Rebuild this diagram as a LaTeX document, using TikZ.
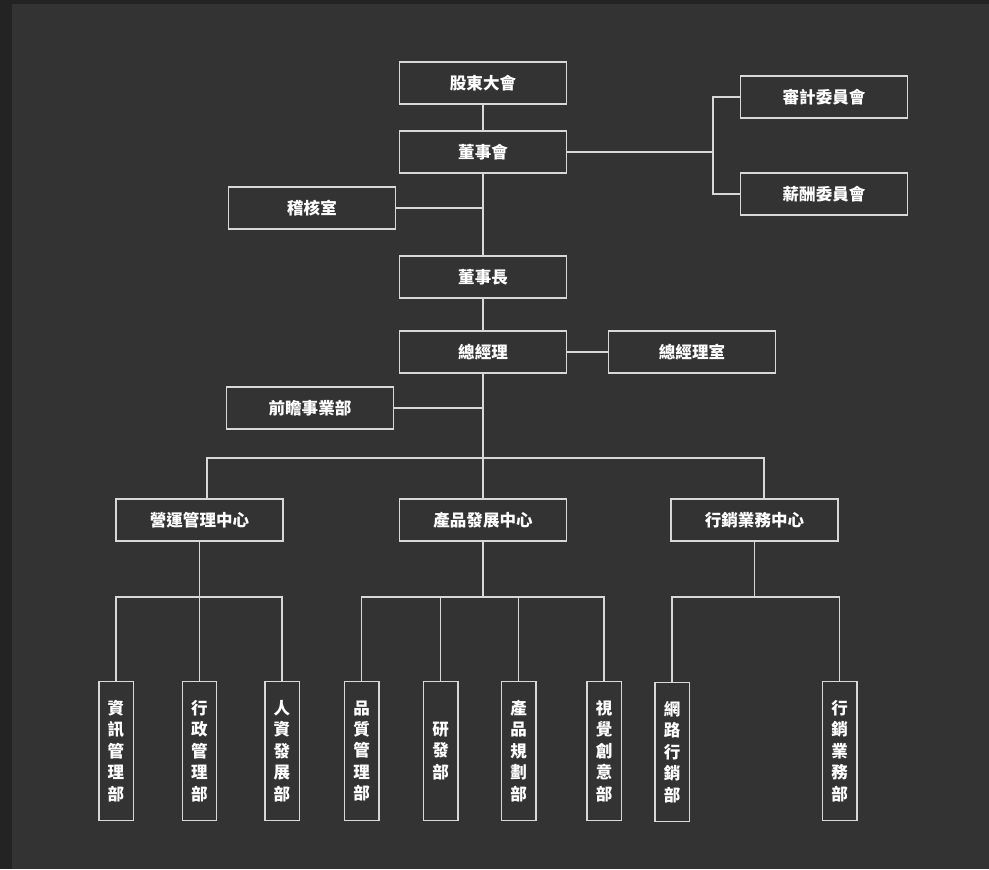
\documentclass[tikz,border=0pt]{standalone}
\usepackage{fontspec}
\newfontfamily\tcfont{Noto Sans CJK TC}
\usetikzlibrary{positioning}

\definecolor{pagebg}{HTML}{333333}
\definecolor{edgebg}{HTML}{232323}
\definecolor{inkline}{HTML}{D8D8D8}

\tikzset{
  unit/.style={draw=inkline,line width=0.85pt,minimum width=3.34cm,minimum height=0.84cm,inner sep=0pt,
    text=white,font=\tcfont\bfseries\fontsize{9.4}{12}\selectfont},
  dept/.style={draw=inkline,line width=0.85pt,minimum width=0.69cm,minimum height=2.78cm,inner sep=0pt,
    align=center,text=white,font=\tcfont\bfseries\fontsize{9.4}{12.2}\selectfont},
  link/.style={draw=inkline,line width=0.85pt}
}

\begin{document}
\begin{tikzpicture}[x=0.02cm,y=-0.02cm]
\fill[edgebg] (0,0) rectangle (989,869);
\fill[pagebg] (12,4) rectangle (989,869);
\useasboundingbox (0,0) rectangle (989,869);

% top of the chart
\node[unit] (gsm) at (483,83) {股東大會};
\node[unit] (bod) at (483,152) {董事會};
\node[unit] (acom) at (824,97) {審計委員會};
\node[unit] (rcom) at (824,194) {薪酬委員會};
\node[unit] (iaud) at (312,208) {稽核室};
\node[unit] (chair) at (483,277) {董事長};
\node[unit] (ceo) at (483,352) {總經理};
\node[unit] (ceoof) at (692,352) {總經理室};
\node[unit] (fwd) at (310,408) {前瞻事業部};

% centres
\node[unit] (opc) at (199.5,520) {營運管理中心};
\node[unit] (pdc) at (483,520) {產品發展中心};
\node[unit] (mkc) at (754.5,520) {行銷業務中心};

% departments
\node[dept] (d1) at (116,751) {資\\訊\\管\\理\\部};
\node[dept] (d2) at (199.5,751) {行\\政\\管\\理\\部};
\node[dept] (d3) at (282,751) {人\\資\\發\\展\\部};
\node[dept] (d4) at (361.5,751) {品\\質\\管\\理\\部};
\node[dept] (d5) at (440.5,751) {研\\發\\部};
\node[dept] (d6) at (518.5,751) {產\\品\\規\\劃\\部};
\node[dept] (d7) at (604,751) {視\\覺\\創\\意\\部};
\node[dept] (d8) at (672,752) {網\\路\\行\\銷\\部};
\node[dept] (d9) at (839.5,751) {行\\銷\\業\\務\\部};

\coordinate (cj) at (713,152);
\coordinate (bus) at (483,458);
\coordinate (ob) at (199.5,597);
\coordinate (pb) at (483,597);
\coordinate (mb) at (754.5,597);

\draw[link] (gsm.south) -- (bod.north);
\draw[link] (bod.east) -- (cj);
\draw[link] (acom.west) -| (cj) |- (rcom.west);
\draw[link] (bod.south) -- (chair.north);
\draw[link] (iaud.east) -- (iaud.east -| bod.south);
\draw[link] (chair.south) -- (ceo.north);
\draw[link] (ceo.east) -- (ceoof.west);
\draw[link] (ceo.south) -- (pdc.north);
\draw[link] (fwd.east) -- (fwd.east -| ceo.south);
\draw[link] ([xshift=0.15cm]opc.north) |- (bus) -| ([xshift=0.19cm]mkc.north);

\draw[link] (opc.south) -- (ob);
\draw[link] (d1.north) |- (ob) -| (d3.north);
\draw[link] (d2.north) -- (d2.north |- ob);

\draw[link] (pdc.south) -- (pb);
\draw[link] (d4.north) |- (pb) -| (d7.north);
\draw[link] (d5.north) -- (d5.north |- pb);
\draw[link] (d6.north) -- (d6.north |- pb);

\draw[link] (mkc.south) -- (mb);
\draw[link] (d8.north) |- (mb) -| (d9.north);
\end{tikzpicture}
\end{document}
